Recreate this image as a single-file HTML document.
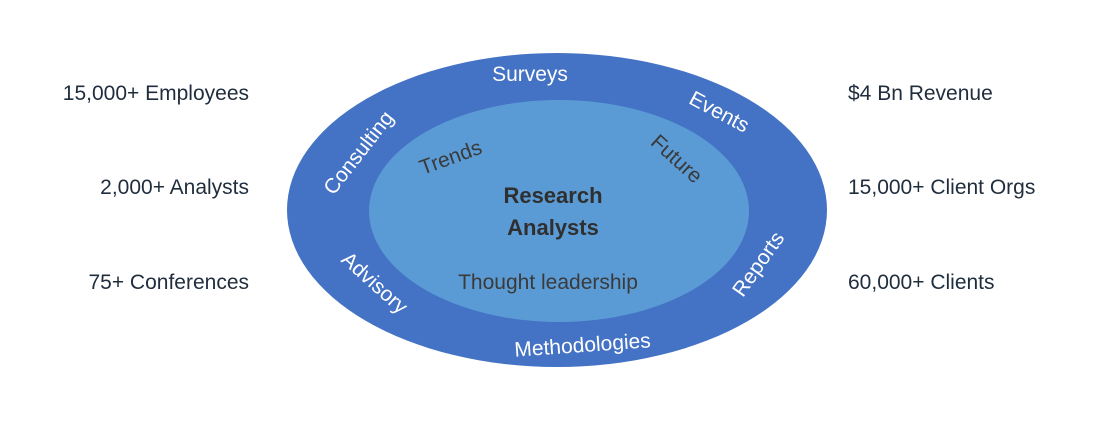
<!DOCTYPE html>
<html><head><meta charset="utf-8"><style>
html,body{margin:0;padding:0;background:#fff;}
svg{display:block;font-family:"Liberation Sans",sans-serif;}
</style></head><body>
<svg width="1120" height="431" viewBox="0 0 1120 431">
<ellipse cx="557" cy="210" rx="270" ry="157" fill="#4472C4"/>
<ellipse cx="559" cy="211" rx="190" ry="111" fill="#5B9BD5"/>
<g fill="#fff" font-size="21">
<text x="530" y="81" text-anchor="middle">Surveys</text>
<text transform="translate(716,118) rotate(28)" text-anchor="middle">Events</text>
<text transform="translate(364,157) rotate(-52)" text-anchor="middle">Consulting</text>
<text transform="translate(370,288) rotate(42)" text-anchor="middle">Advisory</text>
<text transform="translate(764,268) rotate(-55)" text-anchor="middle">Reports</text>
<text transform="translate(583,352) rotate(-4)" text-anchor="middle">Methodologies</text>
</g>
<g fill="#3a3a3a" font-size="21">
<text transform="translate(453,164) rotate(-20)" text-anchor="middle">Trends</text>
<text transform="translate(672,164) rotate(42)" text-anchor="middle">Future</text>
<text x="548" y="289" text-anchor="middle">Thought leadership</text>
</g>
<g fill="#2f2f2f" font-size="22" font-weight="bold" text-anchor="middle">
<text x="553" y="203">Research</text>
<text x="553" y="235">Analysts</text>
</g>
<g fill="#1f2d3d" font-size="21">
<text x="249" y="100" text-anchor="end">15,000+ Employees</text>
<text x="249" y="194" text-anchor="end">2,000+ Analysts</text>
<text x="249" y="289" text-anchor="end">75+ Conferences</text>
<text x="848" y="100">$4 Bn Revenue</text>
<text x="848" y="194">15,000+ Client Orgs</text>
<text x="848" y="289">60,000+ Clients</text>
</g>
</svg>
</body></html>
